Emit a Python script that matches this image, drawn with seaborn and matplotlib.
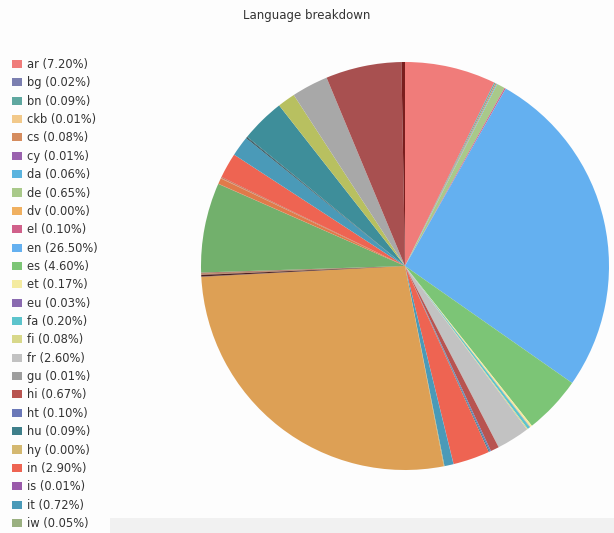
import matplotlib
matplotlib.use("Agg")
import matplotlib.pyplot as plt
from matplotlib.patches import Patch, Rectangle
import seaborn as sns

# ---- data ----
languages = ["ar", "bg", "bn", "ckb", "cs", "cy", "da", "de", "dv", "el",
             "en", "es", "et", "eu", "fa", "fi", "fr", "gu", "hi", "ht",
             "hu", "hy", "in", "is", "it", "iw", "ja", "ka", "km", "kn",
             "ko", "lo", "lt", "lv", "ml", "mr", "ms", "my", "ne", "nl",
             "no", "or", "pa", "pl", "ps", "pt", "ro", "ru", "sd", "si",
             "sl", "sr", "sv", "ta", "te", "th", "tl", "tr", "uk", "und",
             "ur", "vi", "zh", "zxx"]
shares = [7.20, 0.02, 0.09, 0.01, 0.08, 0.01, 0.06, 0.65, 0.00, 0.10,
          26.50, 4.60, 0.17, 0.03, 0.20, 0.08, 2.60, 0.01, 0.67, 0.10,
          0.09, 0.00, 2.90, 0.01, 0.72, 0.05, 27.20, 0.01, 0.01, 0.01,
          0.12, 0.01, 0.01, 0.01, 0.01, 0.01, 0.03, 0.01, 0.01, 0.03,
          0.01, 0.01, 0.01, 0.02, 0.01, 7.10, 0.02, 0.45, 0.01, 0.01,
          0.02, 0.01, 0.05, 0.02, 0.01, 2.00, 1.60, 0.08, 0.05, 3.50,
          1.40, 2.90, 6.00, 0.28]
colors = ["#F07C7A", "#7B7FB0", "#5FA8A0", "#F2C98A", "#D58C5E", "#9A62AE",
          "#5BB4DF", "#A9C98A", "#F0B060", "#D0608A", "#64B0F0", "#7CC576",
          "#F4EBA0", "#8A6AB0", "#5CC4CC", "#D8D88A", "#C2C2C2", "#9E9E9E",
          "#B85450", "#6A78B8", "#3E7F8A", "#D4B870", "#EE6452", "#9A5AAA",
          "#4A9AB8", "#9AB080", "#DDA055", "#6D2E2E", "#7A3A2A", "#5A2E3E",
          "#4A2020", "#8A4A2A", "#7A3A3A", "#5A3A2A", "#6A2A2A", "#8A5A2A",
          "#D08040", "#6A2E2E", "#7A4030", "#C07040", "#6A2E2E", "#7A3A2A",
          "#5A2E3E", "#A05A30", "#6A2A2A", "#72B06C", "#C06A40", "#E07A4A",
          "#D88050", "#B06040", "#E08850", "#C07050", "#D06A40", "#7A3A2A",
          "#6A2A2A", "#EE6452", "#4A9AB8", "#2E4E56", "#244850", "#3E8E9A",
          "#B8C060", "#A8A8A8", "#A85050", "#7A1E1E"]
legend_count = 26
title = "Language breakdown"

total = sum(shares)
labels = [f"{l} ({v / total * 100:.2f}%)" for l, v in zip(languages, shares)]

# ---- figure ----
sns.set_theme(style="white")
plt.rcParams['font.family'] = ['DejaVu Sans']

W, H = 614, 533
fig = plt.figure(figsize=(W / 100, H / 100), dpi=100)
fig.patch.set_facecolor("#FDFDFD")

# faint grey band along the bottom edge
fig.patches.append(Rectangle((110 / W, 0), 1, 15 / H, transform=fig.transFigure,
                             facecolor="#F1F1F1", edgecolor="none", zorder=0))

cx, cy, r = 405, 266, 204
ax = fig.add_axes([(cx - r) / W, (H - cy - r) / H, 2 * r / W, 2 * r / H])
ax.pie(shares, colors=colors, startangle=90, counterclock=False,
       radius=1, wedgeprops=dict(linewidth=0))
ax.set_xlim(-1, 1)
ax.set_ylim(-1, 1)
ax.set_aspect("equal")
ax.axis("off")

fig.text(0.5, 1 - 15 / H, title, ha="center", va="center",
         fontsize=8.5, color="#333333")

handles = [Patch(facecolor=c, edgecolor="none") for c in colors[:legend_count]]
leg = fig.legend(handles, labels[:legend_count], loc="upper left",
                 bbox_to_anchor=(12 / W, 1 - 58 / H), frameon=False,
                 fontsize=8.3, labelspacing=0.465, handlelength=0.85,
                 handleheight=0.7, handletextpad=0.45, borderaxespad=0,
                 borderpad=0)
for t in leg.get_texts():
    t.set_color("#333333")

fig.savefig("out.png", dpi=100, facecolor=fig.get_facecolor())
